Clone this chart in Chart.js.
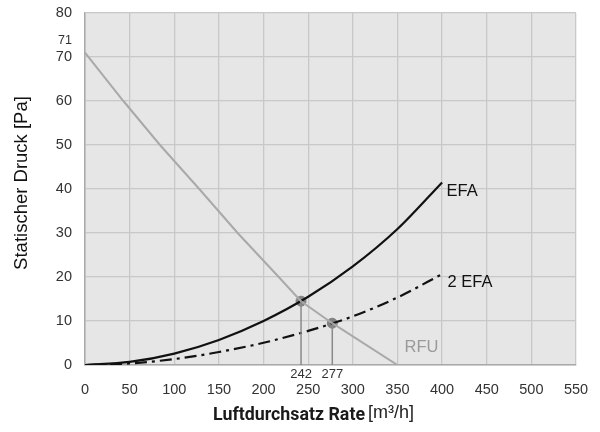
<!DOCTYPE html>
<html>
<head>
<meta charset="utf-8">
<script src="https://cdn.jsdelivr.net/npm/chart.js@4/dist/chart.umd.min.js"></script>
<style>
  html, body { margin: 0; padding: 0; background: #fff; }
  #wrap { width: 600px; height: 432px; }
</style>
</head>
<body>
<div id="wrap"><canvas id="myChart" width="600" height="432"></canvas></div>
<script>
// values
var efaX = [0, 50, 100, 150, 200, 250, 300, 350, 400];
var efaY = [0, 0.7, 2.6, 5.7, 10.0, 15.5, 22.4, 30.9, 41.5];

var efa2X = [0, 50, 100, 150, 200, 250, 300, 350, 400];
var efa2Y = [0, 0.35, 1.35, 2.95, 5.05, 7.75, 11.05, 15.35, 20.65];

var rfuX = [0, 43, 84, 128, 171, 217, 242, 277, 350];
var rfuY = [71, 60, 50, 40, 30, 20, 14.5, 9.5, 0];

// operating points (intersections)
var opX = [242, 277];
var opY = [14.5, 9.5];

var curveNames = ["EFA", "2 EFA", "RFU"];
var xTitle = "Luftdurchsatz Rate";
var xUnit = "[m³/h]";
var yTitle = "Statischer Druck [Pa]";

function pts(xs, ys) {
  var out = [];
  for (var i = 0; i < xs.length; i++) out.push({x: xs[i], y: ys[i]});
  return out;
}

var extras = {
  id: 'extras',
  beforeDraw: function(chart) {
    var c = chart.ctx, a = chart.chartArea;
    c.save();
    c.fillStyle = '#e6e6e6';
    c.fillRect(a.left, a.top, a.right - a.left, a.bottom - a.top);
    c.restore();
  },
  afterDatasetsDraw: function(chart) {
    var c = chart.ctx;
    var xs = chart.scales.x, ys = chart.scales.y;
    c.save();
    // drop lines from operating points
    c.strokeStyle = '#8a8a8a';
    c.lineWidth = 1.5;
    for (var i = 0; i < opX.length; i++) {
      var px = xs.getPixelForValue(opX[i]);
      c.beginPath();
      c.moveTo(px, ys.getPixelForValue(opY[i]));
      c.lineTo(px, ys.getPixelForValue(0));
      c.stroke();
    }
    // small value labels
    c.fillStyle = '#333';
    c.font = '13px "Liberation Sans", Arial, sans-serif';
    c.textAlign = 'center';
    c.textBaseline = 'middle';
    for (var j = 0; j < opX.length; j++) {
      c.fillText(String(opX[j]), xs.getPixelForValue(opX[j]), ys.getPixelForValue(0) + 9);
    }
    c.font = '12.5px "Liberation Sans", Arial, sans-serif';
    c.fillText(String(rfuY[0]), xs.getPixelForValue(0) - 20, ys.getPixelForValue(rfuY[0]) - 12);

    // curve names
    c.textAlign = 'left';
    c.font = '16.5px "Liberation Sans", Arial, sans-serif';
    c.fillStyle = '#111';
    c.fillText(curveNames[0], xs.getPixelForValue(405), ys.getPixelForValue(39.5));
    c.fillText(curveNames[1], xs.getPixelForValue(406), ys.getPixelForValue(18.8));
    c.fillStyle = '#9a9a9a';
    c.fillText(curveNames[2], xs.getPixelForValue(358), ys.getPixelForValue(3.9));

    // axis titles
    c.fillStyle = '#1a1a1a';
    c.font = 'bold 19px Roboto, "Liberation Sans", sans-serif';
    c.fillText(xTitle, 213, 415, 152);
    c.font = '18px "Liberation Sans", Arial, sans-serif';
    c.fillStyle = '#222';
    c.fillText(xUnit, 368, 413, 53);

    c.translate(22, 183);
    c.rotate(-Math.PI / 2);
    c.textAlign = 'center';
    c.font = '18.5px "Liberation Sans", Arial, sans-serif';
    c.fillStyle = '#111';
    c.fillText(yTitle, 0, 0, 182);
    c.restore();
  }
};

var ctx = document.getElementById('myChart');
var chart = new Chart(ctx, {
  type: 'line',
  data: {
    datasets: [{
      label: curveNames[2],
      data: pts(rfuX, rfuY),
      borderColor: '#a9a9a9',
      borderWidth: 2,
      pointRadius: 0,
      tension: 0
    }, {
      label: curveNames[0],
      data: pts(efaX, efaY),
      borderColor: '#111',
      borderWidth: 2.2,
      pointRadius: 0,
      cubicInterpolationMode: 'monotone'
    }, {
      label: curveNames[1],
      data: pts(efa2X, efa2Y),
      borderColor: '#111',
      borderWidth: 2.2,
      borderDash: [12, 5, 3, 5],
      pointRadius: 0,
      cubicInterpolationMode: 'monotone'
    }, {
      label: 'points',
      data: pts(opX, opY),
      showLine: false,
      pointRadius: 5,
      pointBackgroundColor: '#828282',
      pointBorderColor: '#828282'
    }]
  },
  options: {
    responsive: false,
    animation: false,
    layout: { padding: { top: 13, right: 24, bottom: 0, left: 0 } },
    plugins: { legend: { display: false }, tooltip: { enabled: false } },
    scales: {
      x: {
        type: 'linear',
        min: 0, max: 550,
        ticks: { stepSize: 50, color: '#333', padding: 16,
          font: { family: '"Liberation Sans", Arial, sans-serif', size: 14.5 } },
        grid: { color: '#c8c8c8', lineWidth: 1.3, drawTicks: false },
        border: { color: '#aaa', width: 1.5 },
        afterFit: function(s) { s.height = 67; s.paddingLeft = 0; s.paddingRight = 0; }
      },
      y: {
        min: 0, max: 80,
        ticks: { stepSize: 10, color: '#333', padding: 13,
          font: { family: '"Liberation Sans", Arial, sans-serif', size: 14.5 } },
        grid: { color: '#c8c8c8', lineWidth: 1.3, drawTicks: false },
        border: { color: '#aaa', width: 1.5 },
        afterFit: function(s) { s.width = 85; s.paddingTop = 0; s.paddingBottom = 0; }
      }
    }
  },
  plugins: [extras]
});
</script>
</body>
</html>
